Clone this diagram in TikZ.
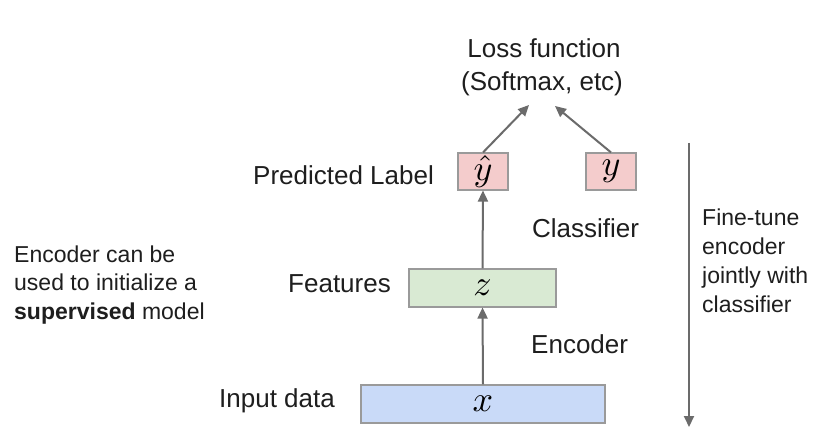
\documentclass[tikz,border=0pt]{standalone}
\usepackage{fontspec}
\usepackage{graphicx}
\setmainfont{Liberation Sans}
\usetikzlibrary{arrows.meta}
\definecolor{txt}{HTML}{1E1E1E}
\definecolor{arr}{HTML}{6B6B6B}
\definecolor{bord}{HTML}{9A9A9A}
\definecolor{pinkf}{HTML}{F4CCCC}
\definecolor{greenf}{HTML}{D9EAD3}
\definecolor{bluef}{HTML}{C9DAF8}
\newcommand{\boxmath}[1]{\scalebox{3.6}{$#1$}}
\begin{document}
\begin{tikzpicture}[x=1pt,y=-1pt,
  lbl/.style={font=\fontsize{26}{32}\selectfont, text=txt, inner sep=0pt},
  note/.style={font=\fontsize{23}{28.7}\selectfont, text=txt, inner sep=0pt, align=left},
  vbox/.style={draw=bord, line width=1.1pt, inner sep=0pt},
  conn/.style={draw=arr, line width=2pt, -{Triangle[length=11pt,width=10pt]}}]
\useasboundingbox[fill=white] (0,0) rectangle (817,441);

% boxes
\node[vbox, fill=pinkf, minimum width=50pt, minimum height=37pt] (yhat) at (483,171.5) {\boxmath{\hat{y}}};
\node[vbox, fill=pinkf, minimum width=50pt, minimum height=37pt] (ybox) at (611,171.5) {\boxmath{y}};
\node[vbox, fill=greenf, minimum width=147pt, minimum height=38pt] (zbox) at (482.5,288) {\boxmath{z}};
\node[vbox, fill=bluef, minimum width=244pt, minimum height=38pt] (xbox) at (483,404) {\boxmath{x}};

% labels
\node[lbl, anchor=base] (loss1) at (544,58) {Loss function};
\node[lbl, anchor=base] (loss2) at (542,91) {(Softmax, etc)};
\node[lbl, anchor=base west] (pred) at (253,185) {Predicted Label};
\node[lbl, anchor=base west] (clf) at (532,237) {Classifier};
\node[lbl, anchor=base west] (feat) at (288,292) {Features};
\node[lbl, anchor=base west] (enc) at (531,353) {Encoder};
\node[lbl, anchor=base west] (inp) at (219,407) {Input data};

\node[note, anchor=base west] (left) at (14,319.4) {Encoder can be\\used to initialize a\\\textbf{supervised} model};
\node[note, anchor=base west] (right) at (702,312) {Fine-tune\\encoder\\jointly with\\classifier};

% connectors
\coordinate (lossA) at (529,105);
\coordinate (lossB) at (555,106);
\coordinate (ftTop) at (689,143);
\coordinate (ftBot) at (689,427);
\draw[conn] (xbox.north) -- (zbox.south);
\draw[conn] (zbox.north) -- (yhat.south);
\draw[conn] (yhat.north) -- (lossA);
\draw[conn] (ybox.north) -- (lossB);
\draw[conn] (ftTop) -- (ftBot);
\end{tikzpicture}
\end{document}
